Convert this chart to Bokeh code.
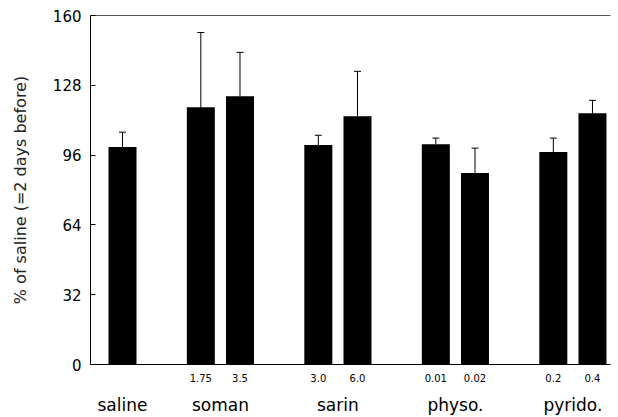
from bokeh.plotting import figure
from bokeh.models import (ColumnDataSource, Whisker, TeeHead, LinearAxis, FixedTicker,
                          Range1d)
from bokeh.embed import file_html
from bokeh.resources import INLINE

# ---- data ----
group_names = ["saline", "soman", "sarin", "physo.", "pyrido."]
bar_group = ["saline", "soman", "soman", "sarin", "sarin", "physo.", "physo.", "pyrido.", "pyrido."]
bar_dose = ["", "1.75", "3.5", "3.0", "6.0", "0.01", "0.02", "0.2", "0.4"]
values = [99.7, 117.9, 123.0, 100.6, 113.8, 101.0, 87.8, 97.4, 115.2]
errors = [6.8, 34.3, 20.1, 4.5, 20.6, 2.8, 11.4, 6.4, 5.9]
y_ticks = [0, 32, 64, 96, 128, 160]
y_label = "% of saline (=2 days before)"

# ---- bar positions derived from group structure (one empty slot between groups) ----
xs = []
pos = 0
prev = None
for g in bar_group:
    if prev is not None:
        pos += 1 if g == prev else 2
    xs.append(pos)
    prev = g
group_centers = []
for g in group_names:
    gx = [x for x, bg in zip(xs, bar_group) if bg == g]
    group_centers.append(sum(gx) / len(gx))

src = ColumnDataSource(dict(
    x=xs, top=values,
    upper=[v + e for v, e in zip(values, errors)],
))

FONT = "DejaVu Sans"

p = figure(width=618, height=417, output_backend="svg", toolbar_location=None,
           x_range=Range1d(-0.817, 12.46), y_range=Range1d(0, 160),
           min_border_left=90, min_border_right=8, min_border_top=15, min_border_bottom=52,
           background_fill_color="white", border_fill_color="white")
p.outline_line_color = None
p.grid.visible = False

p.vbar(x="x", top="top", width=0.715, source=src, fill_color="black", line_color=None)

w = Whisker(base="x", upper="upper", lower="top", source=src,
            upper_head=TeeHead(size=7, line_width=1, line_color="black"), lower_head=None,
            line_width=1, line_color="black")
p.add_layout(w)

# y axis
ya = p.yaxis[0]
ya.ticker = FixedTicker(ticks=y_ticks)
ya.major_tick_in = 5
ya.major_tick_out = 0
ya.minor_tick_line_color = None
ya.axis_line_color = "black"
ya.major_label_text_font = FONT
ya.major_label_text_font_size = "15px"
ya.major_label_text_color = "black"
ya.major_label_standoff = 9
ya.axis_label = y_label
ya.axis_label_text_font = FONT
ya.axis_label_text_font_size = "16px"
ya.axis_label_text_font_style = "normal"
ya.axis_label_text_color = "#222222"
ya.axis_label_standoff = 20

# x axis with dose labels
xa = p.xaxis[0]
dose_pos = [x for x, d in zip(xs, bar_dose) if d]
xa.ticker = FixedTicker(ticks=dose_pos)
xa.major_label_overrides = {float(x): d for x, d in zip(xs, bar_dose) if d}
xa.major_tick_in = 0
xa.major_tick_out = 0
xa.minor_tick_line_color = None
xa.axis_line_color = "black"
xa.major_label_text_font = FONT
xa.major_label_text_font_size = "10px"
xa.major_label_text_color = "black"
xa.major_label_standoff = 9

# second axis below with group names
ga = LinearAxis(ticker=FixedTicker(ticks=group_centers),
                major_label_overrides={float(c): g for c, g in zip(group_centers, group_names)})
ga.axis_line_color = None
ga.major_tick_line_color = None
ga.minor_tick_line_color = None
ga.major_label_text_font = FONT
ga.major_label_text_font_size = "17px"
ga.major_label_text_color = "black"
ga.major_label_standoff = 4
p.add_layout(ga, "below")

# top border line only
ta = LinearAxis(ticker=FixedTicker(ticks=[]))
ta.axis_line_color = "#555555"
ta.axis_line_width = 1
ta.major_tick_line_color = None
ta.minor_tick_line_color = None
ta.major_label_text_font_size = "0px"
ta.major_label_standoff = 0
p.add_layout(ta, "above")

open("out.html", "w").write(file_html(p, INLINE))
